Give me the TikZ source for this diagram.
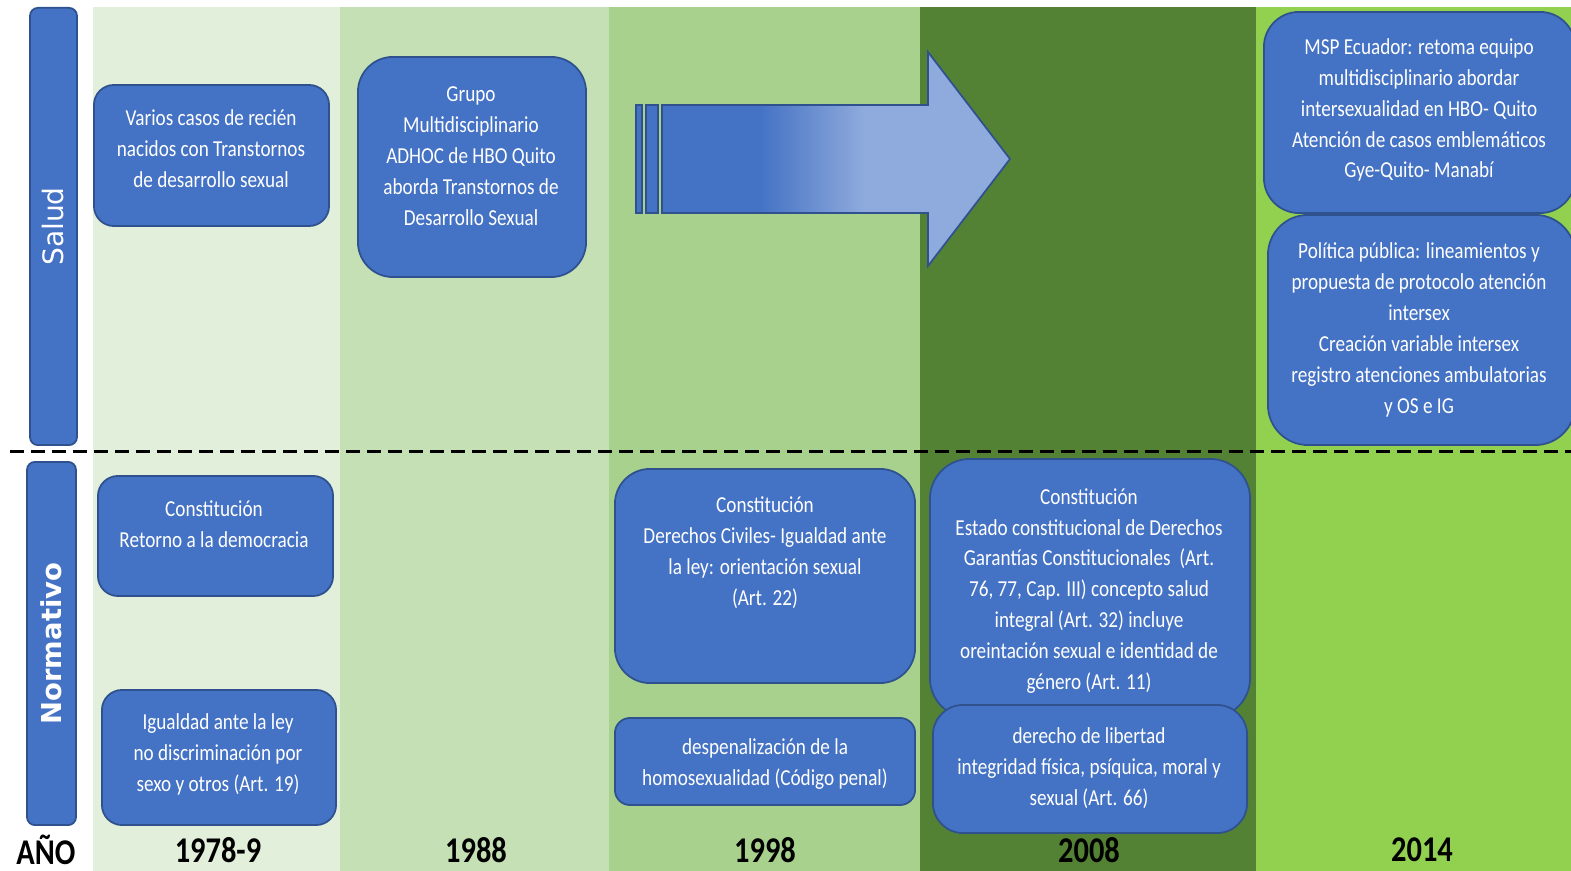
\documentclass[tikz,border=0pt]{standalone}
\usepackage{fontspec}
\setmainfont{Carlito}[FakeStretch=0.84]
\newfontfamily\bandfont{DejaVu Sans}
\usepackage{xcolor}
\definecolor{boxblue}{HTML}{4472C4}
\definecolor{edgeblue}{HTML}{2F528F}
\definecolor{paleblue}{HTML}{8FAADC}
\definecolor{shadeA}{HTML}{E2EFDA}
\definecolor{shadeB}{HTML}{C5E0B4}
\definecolor{shadeC}{HTML}{A9D18E}
\definecolor{shadeD}{HTML}{548235}
\definecolor{shadeE}{HTML}{92D050}
\pgfdeclarehorizontalshading{arrowfade}{100bp}{color(0bp)=(boxblue); color(39bp)=(boxblue); color(54bp)=(paleblue); color(100bp)=(paleblue)}
\tikzstyle{event box}=[
        draw = edgeblue,
        fill = boxblue,
        line width = 0.5pt,
        rectangle
    ]
\tikzstyle{event text}=[
        text = white,
        align = center,
        inner sep = 0pt,
        font = \fontsize{6.5}{8.8}\selectfont
    ]
\tikzstyle{year label}=[
        inner sep = 0pt,
        font = \fontsize{10.3}{12}\selectfont\bfseries
    ]
\tikzstyle{band bar}=[
        draw = edgeblue,
        fill = boxblue,
        line width = 0.5pt,
        rounded corners = 0.08cm
    ]

\begin{document}
\begin{tikzpicture}[x=0.01cm, y=-0.01cm]
        \useasboundingbox (0,0) rectangle (1571,871);
        \fill[shadeA] (93,7) rectangle (340,871);
        \fill[shadeB] (340,7) rectangle (609,871);
        \fill[shadeC] (609,7) rectangle (920,871);
        \fill[shadeD] (920,7) rectangle (1256,871);
        \fill[shadeE] (1256,7) rectangle (1571,871);

        \node[band bar, minimum width=0.47cm, minimum height=4.37cm] (salud) at (53.5,226.5) {};
        \node[band bar, minimum width=0.49cm, minimum height=3.63cm] (norma) at (51.5,643.5) {};
        \node[rotate=90, text=white, inner sep=0pt, font=\bandfont\fontsize{8}{9}\selectfont] (saludlbl) at (salud) {Salud};
        \node[rotate=90, text=white, inner sep=0pt, font=\bandfont\bfseries\fontsize{7.8}{9}\selectfont] (normalbl) at (norma) {Normativo};

        \draw[line width=0.03cm, dash pattern=on 0.14cm off 0.07cm] (10,452) -- (1571,452);

        \node[event box, rounded corners=0.2cm, minimum width=2.35cm, minimum height=1.41cm] (s78) at (211.5,155.5) {};
        \node[event text] (s78t) at (211,149) {Varios casos de recién\\nacidos con Transtornos\\de desarrollo sexual};
        \node[event box, rounded corners=0.35cm, minimum width=2.28cm, minimum height=2.2cm] (s88) at (472,167) {};
        \node[event text] (s88t) at (471,156) {Grupo\\Multidisciplinario\\ADHOC de HBO Quito\\aborda Transtornos de\\Desarrollo Sexual};

        \fill[boxblue, draw=edgeblue, line width=0.5pt] (636,105) rectangle (642,213);
        \fill[boxblue, draw=edgeblue, line width=0.5pt] (646,105) rectangle (658,213);
        \path[shading=arrowfade, draw=edgeblue, line width=0.5pt] (662,105) -- (928,105) -- (928,52) -- (1010,159) -- (928,266) -- (928,213) -- (662,213) -- cycle;

        \node[event box, rounded corners=0.35cm, minimum width=3.11cm, minimum height=2.01cm] (s14a) at (1419.5,112.5) {};
        \node[event text] (s14at) at (1419,110) {MSP Ecuador: retoma equipo\\multidisciplinario abordar\\intersexualidad en HBO- Quito\\Atención de casos emblemáticos\\Gye-Quito- Manabí};
        \node[event box, rounded corners=0.4cm, minimum width=3.07cm, minimum height=2.3cm] (s14b) at (1421.5,330) {};
        \node[event text] (s14bt) at (1419,330) {Política pública: lineamientos y\\propuesta de protocolo atención\\intersex\\Creación variable intersex\\registro atenciones ambulatorias\\y OS e IG};

        \node[event box, rounded corners=0.2cm, minimum width=2.35cm, minimum height=1.2cm] (n78a) at (215.5,536) {};
        \node[event text] (n78at) at (214,524) {Constitución\\Retorno a la democracia};
        \node[event box, rounded corners=0.2cm, minimum width=2.34cm, minimum height=1.35cm] (n78b) at (219,757.5) {};
        \node[event text] (n78bt) at (218,754) {Igualdad ante la ley\\no discriminación por\\sexo y otros (Art. 19)};

        \node[event box, rounded corners=0.35cm, minimum width=3cm, minimum height=2.14cm] (n98a) at (765,576) {};
        \node[event text] (n98at) at (765,553) {Constitución\\Derechos Civiles- Igualdad ante\\la ley: orientación sexual\\(Art. 22)};
        \node[event box, rounded corners=0.15cm, minimum width=3cm, minimum height=0.87cm] (n98b) at (765,761.5) {};
        \node[event text] (n98bt) at (765,764) {despenalización de la\\homosexualidad (Código penal)};

        \node[event box, rounded corners=0.4cm, minimum width=3.2cm, minimum height=2.59cm] (n08a) at (1090,588.5) {};
        \node[event text] (n08at) at (1089,591) {Constitución\\Estado constitucional de Derechos\\Garantías Constitucionales~ (Art.\\76, 77, Cap. III) concepto salud\\integral (Art. 32) incluye\\oreintación sexual e identidad de\\género (Art. 11)};
        \node[event box, rounded corners=0.3cm, minimum width=3.14cm, minimum height=1.28cm] (n08b) at (1090,769) {};
        \node[event text] (n08bt) at (1089,768) {derecho de libertad\\integridad física, psíquica, moral y\\sexual (Art. 66)};

        \node[year label] (anio) at (46,850) {AÑO};
        \node[year label] (y78) at (218,850) {1978-9};
        \node[year label] (y88) at (476,850) {1988};
        \node[year label] (y98) at (765,850) {1998};
        \node[year label] (y08) at (1089,850) {2008};
        \node[year label] (y14) at (1422,850) {2014};
    \end{tikzpicture}
\end{document}
